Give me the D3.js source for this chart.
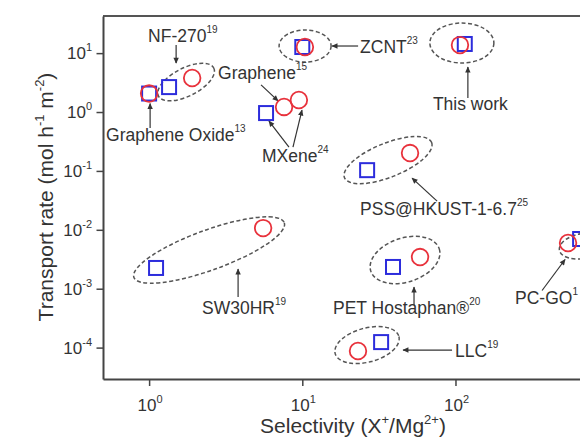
<!DOCTYPE html>
<html>
<head>
<meta charset="utf-8">
<script src="https://cdn.jsdelivr.net/npm/d3@7/dist/d3.min.js"></script>
<style>
  html, body { margin: 0; padding: 0; background: #fff; overflow: hidden; }
  svg { display: block; }
  text { font-family: "Liberation Sans", Arial, sans-serif; fill: #333; }
</style>
</head>
<body>
<svg id="chart" width="580" height="437"></svg>
<script>
// Membranes compared in the plot
const categories = ["Graphene Oxide", "NF-270", "ZCNT", "Graphene", "MXene", "This work",
  "PSS@HKUST-1-6.7", "SW30HR", "PET Hostaphan®", "PC-GO", "LLC"];
const refs = ["13", "19", "23", "15", "24", "", "25", "19", "20", "1", "19"];

// Blue squares
const squareSelectivity = [1.0, 1.35, 10.0, null, 5.8, 115, 26.5, 1.11, 39.1, 651, 32.7];
const squareRate = [2.06, 2.65, 12.7, null, 0.96, 14.3, 0.103, 0.00225, 0.00234, 0.00698, 1.24e-4];

// Red circles
const circleSelectivity = [1.0, 1.91, 10.4, 7.6, 9.5, 107, 50.5, 5.55, 58.7, 543, 23.1];
const circleRate = [2.06, 3.78, 12.7, 1.22, 1.6, 13.7, 0.201, 0.0107, 0.00345, 0.00597, 8.75e-5];

// Axis ticks
const xMajorTicks = [1, 10, 100, 1000];
const yMajorTicks = [1e-4, 1e-3, 1e-2, 1e-1, 1, 10];
const xTickLabels = ["0", "1", "2"];
const yTickLabels = ["-4", "-3", "-2", "-1", "0", "1"];

const svg = d3.select("#chart");
const plot = { left: 103, right: 615, top: 16, bottom: 379 };

const x = d3.scaleLog().domain([0.5, 1100]).range([plot.left, plot.right]);
const y = d3.scaleLog().domain([2.93e-5, 42.7]).range([plot.bottom, plot.top]);

const minorOf = (scale) => {
  const [a, b] = scale.domain();
  const out = [];
  for (let e = Math.floor(Math.log10(a)); e <= Math.ceil(Math.log10(b)); e++) {
    for (let m = 2; m <= 9; m++) {
      const v = m * Math.pow(10, e);
      if (v >= a * 0.999 && v <= b * 1.001) out.push(v);
    }
  }
  return out;
};

const axisColor = "#444";

// Top frame line
svg.append("line")
  .attr("x1", plot.left).attr("x2", plot.right)
  .attr("y1", plot.top).attr("y2", plot.top)
  .attr("stroke", "#555").attr("stroke-width", 2);

// Bottom axis
const gx = svg.append("g").attr("transform", `translate(0,${plot.bottom})`);
gx.call(d3.axisBottom(x).tickValues(minorOf(x)).tickSize(4).tickSizeOuter(0).tickFormat(""));
gx.call(d3.axisBottom(x).tickValues(xMajorTicks).tickSize(7).tickSizeOuter(0).tickFormat(""));
gx.selectAll(".domain").attr("stroke", axisColor).attr("stroke-width", 2);
gx.selectAll(".tick line").attr("stroke", axisColor).attr("stroke-width", 1.5);

// Left axis
const gy = svg.append("g").attr("transform", `translate(${plot.left},0)`);
gy.call(d3.axisLeft(y).tickValues(minorOf(y)).tickSize(3.5).tickSizeOuter(0).tickFormat(""));
gy.call(d3.axisLeft(y).tickValues(yMajorTicks).tickSize(6.5).tickSizeOuter(0).tickFormat(""));
gy.selectAll(".domain").attr("stroke", axisColor).attr("stroke-width", 2);
gy.selectAll(".tick line").attr("stroke", axisColor).attr("stroke-width", 1.5);

// Writes text with raised superscript runs: parts = [[string, isSup], ...]
function rich(sel, parts, size, supSize, rise) {
  let raised = false;
  parts.forEach(([s, sup]) => {
    if (!s) return;
    const t = sel.append("tspan").text(s);
    if (sup && !raised) { t.attr("dy", -rise); raised = true; }
    else if (!sup && raised) { t.attr("dy", rise); raised = false; }
    t.attr("font-size", sup ? supSize : size);
  });
  return sel;
}

// Tick labels (decades that fit in the frame)
xTickLabels.forEach((lab, i) => {
  const t = svg.append("text").attr("x", x(xMajorTicks[i]) + 1).attr("y", 411).attr("text-anchor", "middle");
  rich(t, [["10", false], [lab, true]], 17, 11, 8);
});
yMajorTicks.forEach((v, i) => {
  const t = svg.append("text").attr("x", 92).attr("y", y(v) + 6).attr("text-anchor", "end");
  rich(t, [["10", false], [yTickLabels[i], true]], 17, 11, 8);
});

// Axis titles
rich(svg.append("text").attr("x", 353).attr("y", 433).attr("text-anchor", "middle"),
  [["Selectivity (X", false], ["+", true], ["/Mg", false], ["2+", true], [")", false]], 21, 13, 9);
rich(svg.append("text").attr("text-anchor", "middle")
    .attr("transform", "translate(53,197) rotate(-90)"),
  [["Transport rate (mol h", false], ["-1", true], [" m", false], ["-2", true], [")", false]], 21, 13, 9);

// Arrowhead marker
svg.append("defs").append("marker")
  .attr("id", "ah").attr("viewBox", "0 0 10 10").attr("refX", 9).attr("refY", 5)
  .attr("markerWidth", 7).attr("markerHeight", 6).attr("markerUnits", "userSpaceOnUse")
  .attr("orient", "auto")
  .append("path").attr("d", "M0,0.5 L10,5 L0,9.5 Z").attr("fill", "#333");

// Pixel positions of each membrane's markers
const pts = categories.map((c, i) => {
  const p = [];
  if (squareSelectivity[i] != null) p.push([x(squareSelectivity[i]), y(squareRate[i])]);
  if (circleSelectivity[i] != null) p.push([x(circleSelectivity[i]), y(circleRate[i])]);
  return p;
});
const mid = pts.map(p => [d3.mean(p, d => d[0]), d3.mean(p, d => d[1])]);

// Annotation layout, offsets from the middle of each membrane's markers
const notes = [
  { i: 0, label: [-43, 47.5], arrow: [[1, 34.5], [1, 10]] },
  { i: 1, ellipse: { dx: 5.5, dy: -0.5, rx: 31, ry: 14, rot: -27 }, label: [-32.5, -40.5], arrow: [[-4.5, -37.5], [-4.5, -19.5]] },
  { i: 2, ellipse: { dx: 1.5, dy: -1, rx: 26, ry: 16, rot: 0 }, label: [56.5, 6], arrow: [[54.5, -1], [28.5, -1]] },
  { i: 3, label: [-66, -27.5], arrow: [[-23, -22], [-6, -6]] },
  { i: 4, label: [-20.5, 55.5], arrows: [[[6.5, 40.5], [-13.5, 14.5]], [[10.5, 40.5], [19.5, 3.5]]] },
  { i: 5, ellipse: { dx: -0.5, dy: -1.5, rx: 32, ry: 20, rot: 0 }, label: [-29.5, 65.5], arrow: [[5.5, 53.5], [5.5, 22.5]] },
  { i: 6, ellipse: { dx: -0.5, dy: -1.5, rx: 47, ry: 17, rot: -22 }, label: [-28.5, 53.5], arrow: [[48.5, 39.5], [23.5, 16.5]] },
  { i: 7, ellipse: { dx: -0.5, dy: 2, rx: 80, ry: 20, rot: -20 }, label: [-7.5, 66], arrow: [[28.5, 49], [28.5, 21]] },
  { i: 8, ellipse: { dx: -1.5, dy: -2, rx: 36, ry: 22, rot: -18 }, label: [-73.5, 52], arrow: [[7.5, 43], [7.5, 25]] },
  { i: 9, ellipse: { dx: 9, dy: 5, rx: 24, ry: 12.5, rot: -10 }, label: [-59, 62.5], arrow: [[-32, 49.5], [-9, 18.5]] },
  { i: 10, ellipse: { dx: -2.5, dy: -1.5, rx: 33, ry: 17, rot: -15 }, label: [85.5, 10.5], arrow: [[82.5, 3.5], [33.5, 3.5]] }
];

const ann = svg.append("g");
notes.forEach(n => {
  const [mx, my] = mid[n.i];
  if (n.ellipse) {
    const e = n.ellipse;
    ann.append("ellipse")
      .attr("transform", `translate(${mx + e.dx},${my + e.dy}) rotate(${e.rot})`)
      .attr("rx", e.rx).attr("ry", e.ry)
      .attr("fill", "none").attr("stroke", "#555").attr("stroke-width", 1.5)
      .attr("stroke-dasharray", "4,2.5");
  }
  const arrows = n.arrows || [n.arrow];
  arrows.forEach(a => {
    ann.append("line")
      .attr("x1", mx + a[0][0]).attr("y1", my + a[0][1])
      .attr("x2", mx + a[1][0]).attr("y2", my + a[1][1])
      .attr("stroke", "#333").attr("stroke-width", 1.2)
      .attr("marker-end", "url(#ah)");
  });
  const t = ann.append("text").attr("x", mx + n.label[0]).attr("y", my + n.label[1]);
  rich(t, [[categories[n.i], false], [refs[n.i], true]], 17.5, 10, 9);
});

// Markers: squares below, circles on top
const sqIdx = d3.range(categories.length).filter(i => squareSelectivity[i] != null);
svg.append("g").selectAll("rect").data(sqIdx).join("rect")
  .attr("x", i => x(squareSelectivity[i]) - 7)
  .attr("y", i => y(squareRate[i]) - 7)
  .attr("width", 14).attr("height", 14)
  .attr("fill", "none").attr("stroke", "#2c2cdc").attr("stroke-width", 2);

const ciIdx = d3.range(categories.length).filter(i => circleSelectivity[i] != null);
svg.append("g").selectAll("circle").data(ciIdx).join("circle")
  .attr("cx", i => x(circleSelectivity[i]))
  .attr("cy", i => y(circleRate[i]))
  .attr("r", 8.3)
  .attr("fill", "none").attr("stroke", "#e8323c").attr("stroke-width", 1.8);
</script>
</body>
</html>
